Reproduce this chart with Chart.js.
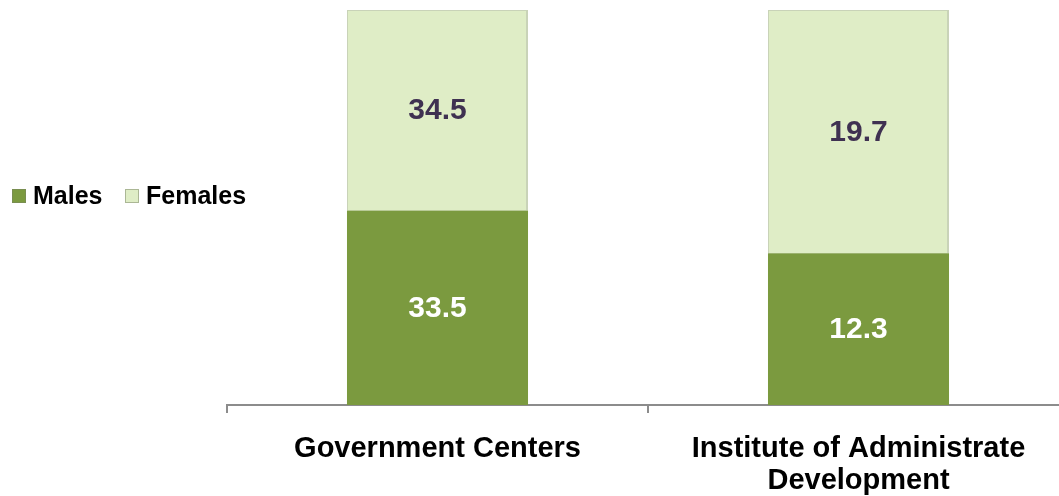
<!DOCTYPE html>
<html lang="en">
<head>
    <meta charset="UTF-8">
    <title>Males and Females by Centre</title>
    <script src="https://cdn.jsdelivr.net/npm/chart.js"></script>
    <style>
        html, body { margin: 0; padding: 0; background: #fff; overflow: hidden; }
        #wrap { width: 1070px; height: 496px; }
    </style>
</head>
<body>
    <div id="wrap">
        <canvas id="genderChart" width="1070" height="496"></canvas>
    </div>

    <script>
        // values
        const categories = [["Government Centers"], ["Institute of Administrate", "Development"]];
        const males = [33.5, 12.3];
        const females = [34.5, 19.7];

        const maleColor = "#7b9a3f";
        const femaleColor = "#dfedc6";
        const fontFamily = "'Liberation Sans', Arial, sans-serif";

        // 100% stacked: each bar is scaled to its own total
        const totals = males.map((m, i) => m + females[i]);
        const malePct = males.map((m, i) => m / totals[i] * 100);
        const femalePct = females.map((f, i) => f / totals[i] * 100);

        // writes the raw value in the middle of each segment
        const valueLabels = {
            id: "valueLabels",
            afterDatasetsDraw(chart) {
                const ctx = chart.ctx;
                ctx.save();
                ctx.font = "bold 30px " + fontFamily;
                ctx.textAlign = "center";
                ctx.textBaseline = "middle";
                chart.data.datasets.forEach((ds, di) => {
                    const meta = chart.getDatasetMeta(di);
                    meta.data.forEach((bar, i) => {
                        const mid = (bar.y + bar.base) / 2;
                        ctx.fillStyle = ds.labelColor;
                        ctx.fillText(ds.raw[i].toFixed(1), bar.x, mid + 1);
                    });
                });
                ctx.restore();
            }
        };

        // legend sits to the left of the bars, so draw it by hand
        const sideLegend = {
            id: "sideLegend",
            afterDraw(chart) {
                const ctx = chart.ctx;
                ctx.save();
                ctx.font = "bold 25px " + fontFamily;
                ctx.textBaseline = "alphabetic";
                const boxX = [12, 125];
                chart.data.datasets.forEach((ds, i) => {
                    const x = boxX[i];
                    ctx.fillStyle = ds.backgroundColor;
                    ctx.fillRect(x, 189, 14, 14);
                    ctx.strokeStyle = "rgba(120,130,100,0.5)";
                    ctx.lineWidth = 1;
                    ctx.strokeRect(x + 0.5, 189.5, 13, 13);
                    ctx.fillStyle = "#000";
                    ctx.fillText(ds.label, x + 21, 204);
                });
                ctx.restore();
            }
        };

        const ctx = document.getElementById("genderChart").getContext("2d");
        new Chart(ctx, {
            type: "bar",
            data: {
                labels: categories,
                datasets: [
                    {
                        label: "Males",
                        data: malePct,
                        raw: males,
                        labelColor: "#ffffff",
                        backgroundColor: maleColor,
                        borderWidth: 0
                    },
                    {
                        label: "Females",
                        data: femalePct,
                        raw: females,
                        labelColor: "#3f3151",
                        backgroundColor: femaleColor,
                        borderColor: "#c9d3b8",
                        borderWidth: { top: 1, left: 1, right: 2, bottom: 0 },
                        borderSkipped: false
                    }
                ]
            },
            options: {
                responsive: false,
                animation: false,
                layout: { padding: { left: 227, right: 1, top: 10, bottom: 0 } },
                datasets: {
                    bar: { categoryPercentage: 1, barPercentage: 0.43 }
                },
                plugins: {
                    legend: { display: false },
                    tooltip: { enabled: false }
                },
                scales: {
                    x: {
                        stacked: true,
                        border: { display: true, color: "#8c8c8c", width: 2 },
                        grid: {
                            display: true,
                            offset: true,
                            drawOnChartArea: false,
                            drawTicks: true,
                            tickLength: 8,
                            color: "#8c8c8c",
                            lineWidth: 2
                        },
                        ticks: {
                            color: "#000",
                            padding: 20,
                            maxRotation: 0,
                            autoSkip: false,
                            font: { family: fontFamily, size: 29, weight: "bold", lineHeight: 1.1 }
                        },
                        afterFit(scale) { scale.height = 91; }
                    },
                    y: {
                        stacked: true,
                        display: false,
                        min: 0,
                        max: 100
                    }
                }
            },
            plugins: [valueLabels, sideLegend]
        });
    </script>
</body>
</html>
